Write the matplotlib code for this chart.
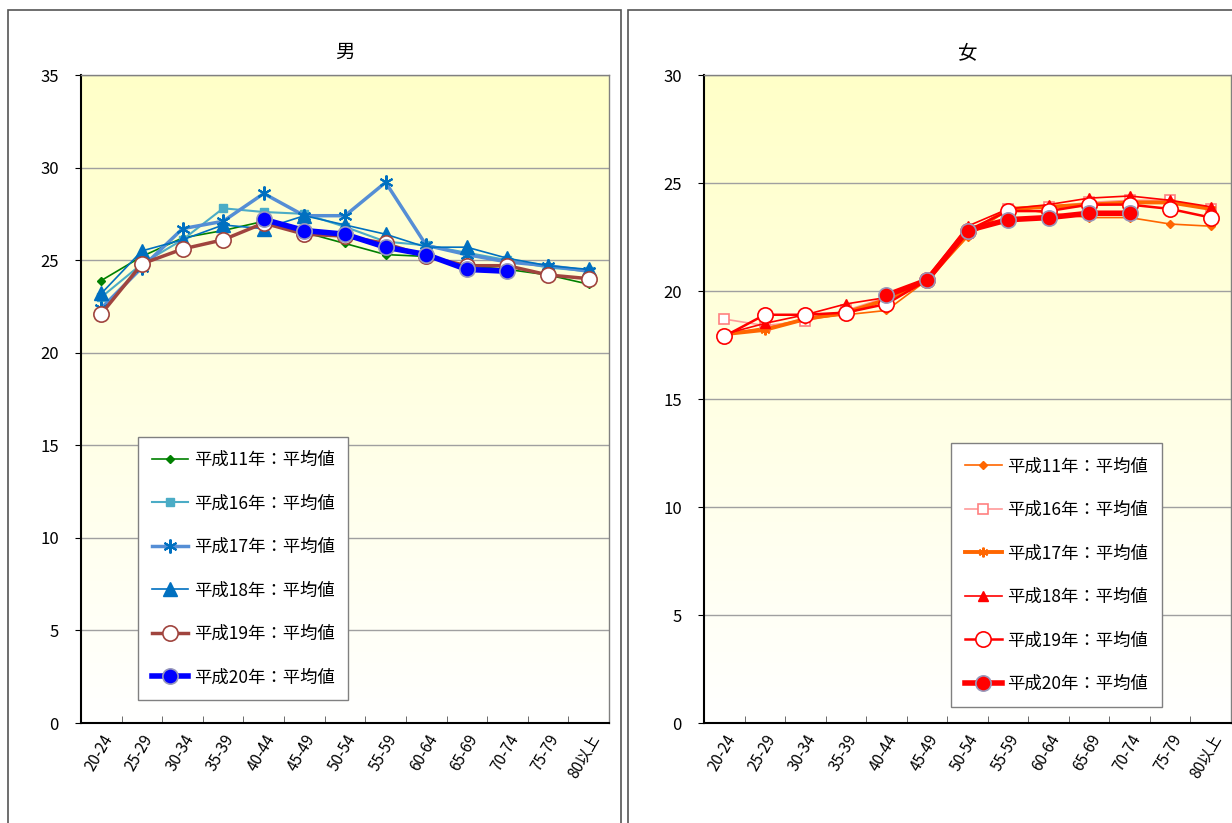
import matplotlib
matplotlib.use("Agg")
import matplotlib.pyplot as plt
import numpy as np
from matplotlib.patches import Rectangle

plt.rcParams['font.family'] = ['Noto Sans CJK JP', 'DejaVu Sans']

ages = ['20-24', '25-29', '30-34', '35-39', '40-44', '45-49', '50-54',
        '55-59', '60-64', '65-69', '70-74', '75-79', '80以上']
labels = ['平成11年：平均値', '平成16年：平均値', '平成17年：平均値',
          '平成18年：平均値', '平成19年：平均値', '平成20年：平均値']
nan = np.nan

# 男
male_h11 = [23.9, 25.2, 26.2, 26.6, 27.1, 26.5, 25.9, 25.3, 25.2, 24.7, 24.5, 24.2, 23.7]
male_h16 = [23.0, 24.8, 26.1, 27.8, 27.6, 27.5, 26.8, 26.0, 25.8, 25.4, 25.0, 24.6, 24.4]
male_h17 = [22.4, 24.6, 26.7, 27.1, 28.6, 27.4, 27.4, 29.2, 25.8, 25.3, 24.9, 24.7, 24.4]
male_h18 = [23.2, 25.5, 26.1, 26.9, 26.7, 27.4, 26.9, 26.4, 25.7, 25.7, 25.1, 24.7, 24.5]
male_h19 = [22.1, 24.8, 25.6, 26.1, 27.0, 26.4, 26.3, 25.9, 25.2, 24.7, 24.7, 24.2, 24.0]
male_h20 = [nan, nan, nan, nan, 27.2, 26.6, 26.4, 25.7, 25.3, 24.5, 24.4, nan, nan]

# 女
female_h11 = [18.0, 18.3, 18.7, 18.9, 19.1, 20.5, 22.5, 23.9, 23.6, 23.4, 23.4, 23.1, 23.0]
female_h16 = [18.7, 18.4, 18.6, 19.1, 19.7, 20.5, 22.7, 23.8, 23.9, 24.1, 24.2, 24.2, 23.8]
female_h17 = [18.0, 18.2, 18.7, 19.0, 19.6, 20.5, 22.6, 23.8, 23.9, 24.0, 24.1, 24.1, 23.8]
female_h18 = [18.0, 18.5, 18.9, 19.4, 19.7, 20.6, 23.0, 23.8, 24.0, 24.3, 24.4, 24.2, 23.9]
female_h19 = [17.9, 18.9, 18.9, 19.0, 19.4, 20.5, 22.8, 23.7, 23.7, 24.0, 24.0, 23.8, 23.4]
female_h20 = [nan, nan, nan, nan, 19.8, 20.5, 22.8, 23.3, 23.4, 23.6, 23.6, nan, nan]

male_styles = [
    dict(color='#008000', lw=1.2, marker='D', ms=4.5, mfc='#008000', mec='#008000'),
    dict(color='#4BACC6', lw=1.5, marker='s', ms=5.5, mfc='#4BACC6', mec='#4BACC6'),
    dict(color='#558ED5', lw=2.5, marker=(6, 2, 0), ms=10, mfc='#0070C0', mec='#0070C0', mew=1.5),
    dict(color='#0070C0', lw=1.2, marker='^', ms=10, mfc='#0070C0', mec='#0070C0'),
    dict(color='#A0443E', lw=2.5, marker='o', ms=11, mfc='white', mec='#A0443E', mew=1.2),
    dict(color='#0000FF', lw=4, marker='o', ms=11, mfc='#0000FF', mec='#9999BB', mew=1.2),
]
female_styles = [
    dict(color='#FF6600', lw=1.2, marker='D', ms=4.5, mfc='#FF6600', mec='#FF6600'),
    dict(color='#FF9999', lw=1.2, marker='s', ms=7, mfc='white', mec='#FF8080', mew=1.2),
    dict(color='#FF6600', lw=2.8, marker=(6, 2, 0), ms=7, mfc='#FF6600', mec='#FF6600', mew=1.5),
    dict(color='#FF0000', lw=1.2, marker='^', ms=7, mfc='#FF0000', mec='#FF0000'),
    dict(color='#FF0000', lw=1.8, marker='o', ms=11, mfc='white', mec='#FF0000', mew=1.2),
    dict(color='#FF0000', lw=4, marker='o', ms=11, mfc='#FF0000', mec='#9999BB', mew=1.2),
]

W, H = 1232, 823
fig = plt.figure(figsize=(W / 100, H / 100), dpi=100)

# panel frames
fig.patches.append(Rectangle((8 / W, -0.01), 613 / W, 1 - 10 / H + 0.01, transform=fig.transFigure,
                             fill=False, edgecolor='#555555', lw=1.2))
fig.patches.append(Rectangle((628 / W, -0.01), 620 / W, 1 - 10 / H + 0.01, transform=fig.transFigure,
                             fill=False, edgecolor='#555555', lw=1.2))

def draw_panel(rect, title, series, styles, ymax, leg_anchor):
    ax = fig.add_axes(rect)
    x = np.arange(len(ages))
    grad = np.linspace(1, 0, 256).reshape(-1, 1)
    cmap = matplotlib.colors.LinearSegmentedColormap.from_list('bg', ['#FFFFFF', '#FFFFC8'])
    ax.imshow(grad, extent=(-0.5, len(ages) - 0.5, 0, ymax), aspect='auto', cmap=cmap,
              origin='upper', zorder=0)
    for vals, lab, st in zip(series, labels, styles):
        ax.plot(x, vals, label=lab, zorder=3, **st)
    ax.set_xlim(-0.5, len(ages) - 0.5)
    ax.set_ylim(0, ymax)
    ax.set_yticks(np.arange(0, ymax + 1, 5))
    ax.grid(axis='y', color='#A0A0A0', lw=1)
    ax.set_axisbelow(True)
    ax.set_xticks(x)
    ax.set_xticklabels(ages, rotation=60, ha='right', rotation_mode='anchor', fontsize=11)
    ax.set_xticks(np.arange(0.5, len(ages) - 0.5), minor=True)
    ax.tick_params(axis='x', which='major', length=0, pad=6)
    ax.tick_params(axis='x', which='minor', direction='in', length=5, color='#555555')
    ax.tick_params(axis='y', length=4, pad=12, labelsize=12)
    for s in ['top', 'right']:
        ax.spines[s].set_color('#808080')
        ax.spines[s].set_linewidth(1)
    for s in ['left', 'bottom']:
        ax.spines[s].set_color('black')
        ax.spines[s].set_linewidth(1.5)
    ax.set_title(title, fontsize=14, pad=12)
    leg = ax.legend(loc='lower left', bbox_to_anchor=leg_anchor, fontsize=12.5, frameon=True,
                    fancybox=False, edgecolor='#808080', framealpha=1, labelspacing=1.47,
                    handlelength=2.1, handletextpad=0.3, borderpad=0.8, borderaxespad=0)
    leg.get_frame().set_linewidth(1)
    return ax

draw_panel([81 / W, 100 / H, 528 / W, 648 / H], '男',
           [male_h11, male_h16, male_h17, male_h18, male_h19, male_h20],
           male_styles, 35, (0.108, 0.035))
draw_panel([704 / W, 100 / H, 527 / W, 648 / H], '女',
           [female_h11, female_h16, female_h17, female_h18, female_h19, female_h20],
           female_styles, 30, (0.469, 0.025))

fig.savefig('out.png', dpi=100)
